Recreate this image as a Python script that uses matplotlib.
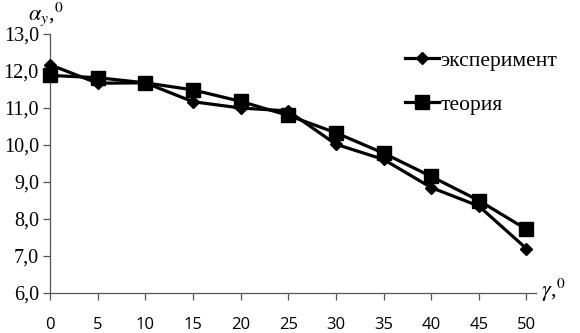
import matplotlib
matplotlib.use("Agg")
import matplotlib.pyplot as plt
from matplotlib.ticker import FuncFormatter

# data
gamma = [0, 5, 10, 15, 20, 25, 30, 35, 40, 45, 50]
experiment = [12.17, 11.67, 11.68, 11.17, 11.0, 10.92, 10.02, 9.61, 8.85, 8.35, 7.2]
theory = [11.88, 11.82, 11.68, 11.49, 11.18, 10.8, 10.33, 9.78, 9.15, 8.5, 7.72]
yticks = [6, 7, 8, 9, 10, 11, 12, 13]

plt.rcParams['font.family'] = ['Liberation Serif', 'DejaVu Serif']
plt.rcParams['mathtext.fontset'] = 'stix'
sans = 'Open Sans'

fig = plt.figure(figsize=(5.8, 3.33), dpi=100)
ax = fig.add_axes([50 / 580, 40 / 333, 486 / 580, 259 / 333])

ax.plot(gamma, experiment, color='black', lw=2.3, marker='D', ms=6,
        label='эксперимент', clip_on=False, zorder=3)
ax.plot(gamma, theory, color='black', lw=2.3, marker='s', ms=9.5,
        label='теория', clip_on=False, zorder=3)

ax.set_xlim(0, 51)
ax.set_ylim(6, 13)
ax.set_xticks(gamma)
ax.set_yticks(yticks)
ax.yaxis.set_major_formatter(FuncFormatter(lambda v, p: f"{v:.1f}".replace('.', ',')))

for s in ['top', 'right']:
    ax.spines[s].set_visible(False)
for s in ['left', 'bottom']:
    ax.spines[s].set_color('#555555')
    ax.spines[s].set_linewidth(0.9)

ax.tick_params(axis='both', direction='out', length=5, width=0.9, color='#555555')
ax.tick_params(axis='x', pad=12, labelsize=12, labelfontfamily=sans)
ax.tick_params(axis='y', pad=3, labelsize=14.5)

fig.text(28 / 580, 1 - 14 / 333, r'$\mathit{\alpha_y}$,$^{0}$', fontsize=16,
         ha='left', va='center')
fig.text(541 / 580, 1 - 290 / 333, r'$\mathit{\gamma}$,$^{0}$', fontsize=16,
         ha='left', va='center')

leg = ax.legend(loc='upper left', bbox_to_anchor=(0.69, 1.01), frameon=False,
                prop={'size': 15.5}, handlelength=1.6,
                handletextpad=0.05, labelspacing=1.1)

fig.savefig('out.png', dpi=100)
